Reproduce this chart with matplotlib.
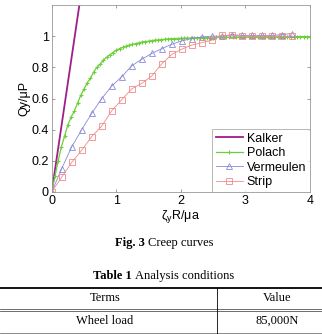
import matplotlib
matplotlib.use("Agg")
import matplotlib.pyplot as plt
from matplotlib.lines import Line2D
import numpy as np

# Kalker (linear theory)
kalker_x = [0.0, 0.45]
kalker_y = [0.0, 1.26]

# Polach (dense points, step 0.05)
polach_x = np.arange(0, 81) * 0.05
polach_y = [0.00, 0.10, 0.20, 0.29, 0.36, 0.43, 0.48, 0.52, 0.57, 0.62,
            0.66, 0.70, 0.73, 0.77, 0.80, 0.82, 0.845, 0.865, 0.88, 0.895,
            0.91, 0.92, 0.928, 0.935, 0.942, 0.947, 0.952, 0.957, 0.962, 0.965,
            0.968, 0.971, 0.974, 0.976, 0.978, 0.980, 0.982, 0.983, 0.984, 0.985,
            0.986, 0.987, 0.988, 0.988, 0.989, 0.989, 0.990, 0.990, 0.991, 0.991,
            0.991, 0.992, 0.992, 0.992, 0.993, 0.993, 0.993, 0.993, 0.994, 0.994,
            0.994, 0.994, 0.994, 0.995, 0.995, 0.995, 0.995, 0.995, 0.995, 0.996,
            0.996, 0.996, 0.996, 0.996, 0.996, 0.996, 0.997, 0.997, 0.997, 0.997,
            0.997]

# Vermeulen and Strip (step ~0.155)
vs_x = np.arange(0, 25) * 0.155
vermeulen_y = [0.0, 0.15, 0.29, 0.40, 0.505, 0.60, 0.68, 0.74, 0.81, 0.852,
               0.889, 0.92, 0.948, 0.97, 0.985, 0.995, 1.0, 1.0, 1.01, 1.005,
               1.005, 1.005, 1.005, 1.01, 1.017]
strip_y = [0.0, 0.095, 0.19, 0.268, 0.356, 0.423, 0.522, 0.592, 0.662, 0.697,
           0.744, 0.823, 0.883, 0.917, 0.943, 0.958, 0.974, 1.005, 1.005, 1.0,
           1.0, 1.0, 1.0, 1.0, 1.0]

W, H = 322, 334
fig = plt.figure(figsize=(W / 100, H / 100), dpi=100)
ax = fig.add_axes([51.7 / W, 1 - 192 / H, (310 - 51.7) / W, (192 - 5) / H])

ax.plot(kalker_x, kalker_y, color="#9e1f8a", lw=1.3, label="Kalker")
ax.plot(polach_x, polach_y, color="#6fcf3a", lw=0.9, marker="+", ms=3,
        mew=0.8, label="Polach")
ax.plot(vs_x, vermeulen_y, color="#8a8ad8", lw=0.6, marker="^", ms=5,
        mfc="none", mew=0.6, label="Vermeulen")
ax.plot(vs_x, strip_y, color="#f08a8a", lw=0.6, marker="s", ms=4.5,
        mfc="none", mew=0.6, label="Strip")

sans = "Liberation Sans"
ax.set_xlim(0, 4)
ax.set_ylim(0, 1.2)
ax.set_xticks([0, 1, 2, 3, 4])
ax.set_yticks([0, 0.2, 0.4, 0.6, 0.8, 1])
ax.set_yticklabels(["0", "0.2", "0.4", "0.6", "0.8", "1"])
ax.tick_params(direction="in", top=True, right=True, length=2.5, width=0.5,
               labelsize=9, pad=2, color="#777777")
for s in ax.spines.values():
    s.set_color("#999999")
    s.set_linewidth(0.6)
for t in ax.get_xticklabels() + ax.get_yticklabels():
    t.set_family(sans)

ax.set_xlabel(r"$\mathregular{\zeta_y}$R/μa", fontsize=9, family=sans, labelpad=1)
ax.set_ylabel("Qy/μP", fontsize=9, family=sans, labelpad=1)

leg = ax.legend(loc="lower right", frameon=True, fancybox=False,
                borderaxespad=0, handlelength=2.2, handletextpad=0.3,
                labelspacing=0.2, borderpad=0.3, prop={"family": sans, "size": 9})
leg.get_frame().set_edgecolor("#999999")
leg.get_frame().set_linewidth(0.6)

# caption and table header below the chart
serif = "Liberation Serif"
fs = 9
fig.text(145 / W, 1 - 243 / H, "Fig. 3", ha="right", va="center", fontsize=fs,
         family=serif, weight="bold")
fig.text(148 / W, 1 - 243 / H, "Creep curves", ha="left", va="center",
         fontsize=fs, family=serif)
fig.text(132 / W, 1 - 276 / H, "Table 1", ha="right", va="center", fontsize=fs,
         family=serif, weight="bold")
fig.text(135 / W, 1 - 276 / H, "Analysis conditions", ha="left", va="center",
         fontsize=fs, family=serif)

def hline(y, lw, c="black"):
    fig.add_artist(Line2D([0, 1], [1 - y / H, 1 - y / H], color=c, lw=lw))

hline(287.5, 1.3)
hline(308.5, 0.6, "#555555")
hline(310.8, 0.6, "#555555")
hline(332.5, 0.6, "#777777")
fig.add_artist(Line2D([217 / W, 217 / W], [1 - 287.5 / H, 0], color="black", lw=0.6))

fig.text(105 / W, 1 - 298 / H, "Terms", ha="center", va="center", fontsize=fs, family=serif)
fig.text(277 / W, 1 - 298 / H, "Value", ha="center", va="center", fontsize=fs, family=serif)
fig.text(105 / W, 1 - 321 / H, "Wheel load", ha="center", va="center", fontsize=fs, family=serif)
fig.text(277 / W, 1 - 321 / H, "85,000N", ha="center", va="center", fontsize=fs, family=serif)

fig.savefig("out.png", dpi=100)
